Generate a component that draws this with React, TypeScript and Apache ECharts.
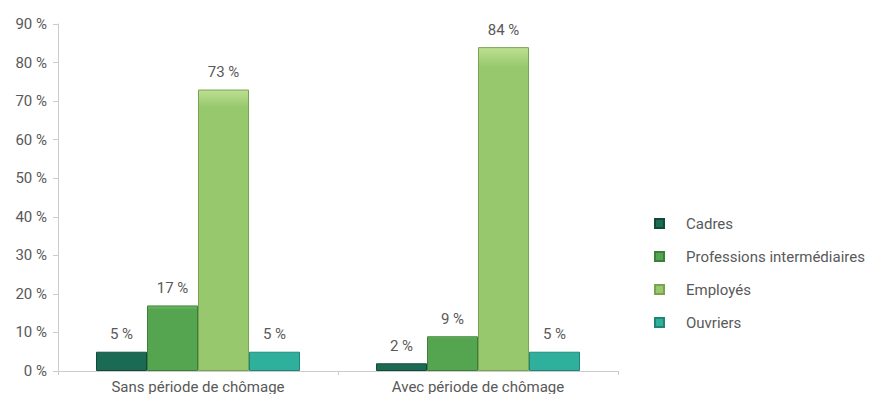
import React, { useEffect, useRef } from "react";
import * as echarts from "echarts";

const categories = ["Sans période de chômage", "Avec période de chômage"];
const seriesNames = ["Cadres", "Professions intermédiaires", "Employés", "Ouvriers"];
const cadres = [5, 2];
const professions = [17, 9];
const employes = [73, 84];
const ouvriers = [5, 5];
const yTicks = [0, 10, 20, 30, 40, 50, 60, 70, 80, 90];

const colors = [
  ["#2f8f72", "#1b6a53", "#124a3a"],
  ["#72bd6a", "#55a44f", "#3d7f39"],
  ["#bde092", "#98c86d", "#78a350"],
  ["#55ccb8", "#2fb09c", "#1f8576"],
];

function grad(c: string[]) {
  return new echarts.graphic.LinearGradient(0, 0, 0, 1, [
    { offset: 0, color: c[0] },
    { offset: 0.06, color: c[1] },
    { offset: 1, color: c[1] },
  ]);
}

export default function App() {
  const ref = useRef<HTMLDivElement>(null);
  useEffect(() => {
    if (!ref.current) return;
    const chart = echarts.init(ref.current, null, { renderer: "svg" });
    const textColor = "#595959";
    const font = "Roboto, 'DejaVu Sans', sans-serif";
    const data = [cadres, professions, employes, ouvriers];
    chart.setOption({
      animation: false,
      textStyle: { fontFamily: font },
      grid: { left: 50, right: 265, top: 16, bottom: 18, containLabel: false },
      legend: {
        orient: "vertical",
        left: 641,
        top: 203,
        itemGap: 18,
        itemWidth: 9,
        itemHeight: 9,
        icon: "rect",
        data: seriesNames,
        textStyle: { color: textColor, fontSize: 15, fontFamily: font, padding: [0, 0, 0, 17] },
      },
      xAxis: {
        type: "category",
        data: categories,
        axisLine: { lineStyle: { color: "#cccccc" } },
        axisTick: { show: true, length: 4, lineStyle: { color: "#cccccc" } },
        axisLabel: { color: textColor, fontSize: 15, margin: 8, fontFamily: font },
      },
      yAxis: {
        type: "value",
        min: 0,
        max: 90,
        interval: 10,
        splitLine: { show: false },
        axisLine: { show: true, lineStyle: { color: "#cccccc" } },
        axisTick: { show: true, length: 5, lineStyle: { color: "#cccccc" } },
        axisLabel: {
          color: textColor,
          fontSize: 15,
          margin: 11,
          fontFamily: font,
          formatter: (v: number) => (yTicks.includes(v) ? `${v} %` : ""),
        },
      },
      series: seriesNames.map((name, i) => ({
        name,
        type: "bar",
        data: data[i],
        barWidth: 51,
        barGap: "0%",
        itemStyle: {
          color: grad(colors[i]),
          borderColor: colors[i][2],
          borderWidth: 1,
        },
        label: {
          show: true,
          position: "top",
          distance: 10,
          color: textColor,
          fontSize: 15,
          fontFamily: font,
          formatter: (p: any) => `${p.value} %`,
        },
      })),
    });
    return () => chart.dispose();
  }, []);
  return <div ref={ref} style={{ width: 875, height: 386 }} />;
}
